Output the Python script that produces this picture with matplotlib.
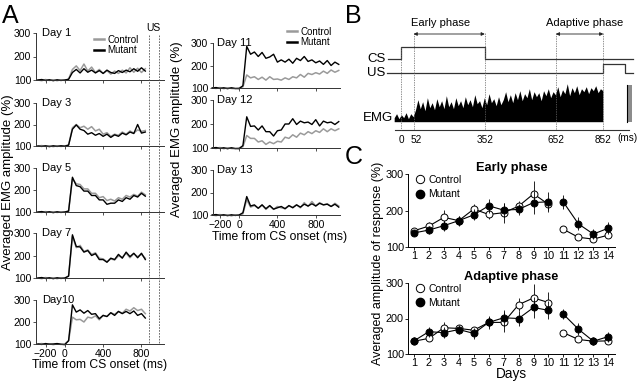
import numpy as np
import matplotlib.pyplot as plt
import matplotlib.transforms as mtransforms
from matplotlib.lines import Line2D

plt.rcParams['font.family'] = ['Liberation Sans', 'DejaVu Sans']

W, H = 640, 381
fig = plt.figure(figsize=(6.4, 3.81), dpi=100)

# ---------------- data: panel A traces (% of baseline) ----------------
t_left = np.arange(-280, 841, 40)
t_right = np.arange(-280, 1041, 40)

day1_control = [100, 97, 102, 98, 101, 97, 101, 98, 104, 145, 160, 140, 168, 138, 155, 132, 145, 128, 140, 125, 138, 128, 142, 130, 152, 133, 150, 132, 148]
day1_mutant = [100, 102, 98, 101, 97, 101, 98, 100, 103, 132, 145, 130, 148, 133, 142, 130, 140, 128, 142, 132, 128, 140, 132, 142, 135, 148, 137, 152, 138]
day3_control = [100, 102, 98, 101, 97, 101, 98, 100, 105, 185, 200, 185, 192, 178, 190, 170, 178, 155, 162, 145, 155, 150, 165, 155, 170, 160, 175, 168, 172]
day3_mutant = [100, 98, 101, 97, 101, 98, 101, 99, 104, 178, 198, 178, 172, 155, 162, 150, 158, 145, 155, 140, 152, 145, 160, 152, 165, 158, 200, 160, 165]
day5_control = [100, 98, 102, 99, 101, 98, 100, 99, 105, 250, 228, 225, 205, 205, 185, 185, 165, 170, 152, 158, 150, 165, 158, 175, 168, 180, 172, 190, 178]
day5_mutant = [100, 102, 98, 101, 97, 101, 98, 100, 104, 258, 220, 215, 195, 195, 175, 175, 155, 155, 135, 140, 140, 155, 148, 165, 158, 175, 168, 185, 172]
day7_control = [100, 97, 102, 98, 101, 97, 101, 98, 110, 285, 235, 245, 218, 225, 205, 212, 188, 185, 172, 185, 180, 198, 192, 210, 190, 208, 195, 205, 188]
day7_mutant = [100, 102, 98, 101, 97, 101, 98, 100, 108, 292, 240, 238, 215, 222, 200, 208, 182, 182, 170, 188, 182, 205, 188, 215, 195, 210, 190, 210, 182]
day10_control = [100, 102, 98, 101, 97, 101, 98, 100, 115, 222, 210, 212, 200, 222, 218, 228, 210, 230, 225, 242, 235, 248, 240, 258, 250, 265, 252, 258, 238]
day10_mutant = [100, 98, 102, 99, 100, 102, 99, 97, 115, 278, 245, 255, 240, 252, 235, 238, 215, 230, 225, 242, 230, 248, 238, 248, 238, 250, 230, 238, 218]

day11_control = [100, 98, 102, 97, 101, 98, 97, 101, 105, 158, 145, 150, 138, 148, 135, 150, 138, 140, 135, 145, 138, 150, 145, 160, 148, 165, 160, 168, 162, 175, 165, 180, 170, 178]
day11_mutant = [100, 102, 98, 101, 97, 101, 98, 97, 110, 285, 250, 260, 240, 258, 232, 238, 250, 215, 225, 215, 228, 210, 232, 222, 240, 218, 225, 212, 220, 205, 222, 200, 215, 205]
day12_control = [100, 98, 102, 97, 101, 98, 97, 101, 105, 152, 140, 140, 125, 130, 115, 125, 118, 128, 125, 145, 140, 155, 145, 162, 155, 168, 160, 172, 165, 180, 168, 180, 172, 180]
day12_mutant = [100, 102, 98, 101, 97, 101, 98, 97, 110, 230, 190, 192, 175, 192, 168, 168, 150, 172, 175, 200, 200, 222, 198, 212, 205, 208, 198, 218, 192, 212, 205, 208, 198, 210]
day13_control = [100, 97, 102, 98, 101, 96, 101, 98, 105, 168, 135, 142, 130, 145, 125, 140, 125, 138, 132, 128, 140, 135, 145, 132, 155, 138, 160, 140, 155, 145, 150, 138, 152, 140]
day13_mutant = [100, 102, 98, 101, 97, 101, 98, 100, 110, 182, 140, 145, 130, 145, 128, 142, 126, 132, 138, 128, 142, 132, 145, 135, 148, 140, 150, 140, 152, 145, 148, 138, 148, 135]

left_days = ['Day 1', 'Day 3', 'Day 5', 'Day 7', 'Day10']
right_days = ['Day 11', 'Day 12', 'Day 13']
us_window = [875, 980]

# ---------------- data: panel B schematic (ms) ----------------
cs_on, cs_off = 0, 352
us_on, us_off = 852, 945
phase_marks = [0, 52, 352, 652, 852]
emg_amp = [4, 8, 3, 7, 4, 9, 3, 8, 5,
           12, 22, 13, 20, 11, 24, 14, 19, 12, 23, 15, 21, 13, 26, 15,
           20, 13, 24, 16, 21, 14, 25, 17, 22, 15, 27, 18, 21, 14, 24, 17, 28, 19, 23, 16,
           25, 17, 22, 30, 20, 27, 19, 29, 22, 31, 21, 28, 24, 33, 22, 30, 25, 29, 21, 31,
           26, 33, 24, 30, 27, 35, 25, 32, 28, 38, 26, 34, 29, 36, 27, 33, 30, 35, 28, 34,
           31, 36, 29, 33, 31]
emg_t = -30 + 10 * np.arange(len(emg_amp))

# ---------------- data: panel C ----------------
days = np.arange(1, 15)
early_control = [144, 157, 181, 172, 204, 189, 194, 212, 246, 217, 148, 126, 121, 132]
early_control_err = [8, 10, 20, 12, 14, 12, 28, 14, 36, 15, 8, 5, 5, 8]
early_mutant = [138, 146, 158, 172, 188, 213, 201, 203, 222, 224, 223, 163, 135, 151]
early_mutant_err = [8, 12, 14, 14, 15, 20, 20, 15, 32, 28, 20, 18, 15, 17]
adaptive_control = [136, 144, 174, 172, 167, 189, 189, 239, 258, 245, 160, 141, 136, 137]
adaptive_control_err = [8, 8, 15, 10, 8, 14, 28, 18, 40, 30, 8, 6, 6, 8]
adaptive_mutant = [137, 163, 160, 169, 158, 189, 202, 200, 231, 223, 212, 170, 136, 149]
adaptive_mutant_err = [10, 14, 16, 14, 15, 18, 22, 20, 30, 25, 14, 17, 12, 14]

GRAY = '#9a9a9a'
AXC = '#333333'


def px_axes(x0, x1, ytop, ybot):
    return fig.add_axes([x0 / W, 1 - ybot / H, (x1 - x0) / W, (ybot - ytop) / H])


def trace_axes(ax, xlim, labels):
    ax.set_xlim(*xlim)
    ax.set_ylim(100, 300)
    for s in ['top', 'right']:
        ax.spines[s].set_visible(False)
    for s in ['left', 'bottom']:
        ax.spines[s].set_linewidth(0.7)
        ax.spines[s].set_color(AXC)
    ax.set_yticks([100, 200, 300])
    ax.set_xticks([-200, 0, 400, 800])
    ax.tick_params(length=2.5, width=0.6, labelsize=7.5, pad=1, colors=AXC, labelcolor='black')
    if not labels:
        ax.set_xticklabels([])


# ---------------- panel A left column ----------------
left_pos = [(33, 80), (103, 146), (168, 212), (233, 278), (300, 344)]
left_data = [(day1_control, day1_mutant), (day3_control, day3_mutant),
             (day5_control, day5_mutant), (day7_control, day7_mutant),
             (day10_control, day10_mutant)]
left_axes = []
for i, ((yt, yb), (c, m), name) in enumerate(zip(left_pos, left_data, left_days)):
    ax = px_axes(36, 164, yt, yb)
    trace_axes(ax, (-300, 1035), i == len(left_pos) - 1)
    ax.plot(t_left, c, color=GRAY, lw=1.1, clip_on=False)
    ax.plot(t_left, m, color='black', lw=1.0, clip_on=False)
    ax.text(0.05, 300, name, transform=mtransforms.blended_transform_factory(ax.transAxes, ax.transData),
            fontsize=8, va='center', ha='left')
    left_axes.append(ax)

left_axes[0].legend([Line2D([], [], color=GRAY, lw=1.8), Line2D([], [], color='black', lw=1.8)],
                    ['Control', 'Mutant'], loc='upper left', bbox_to_anchor=(0.45, 0.96),
                    frameon=False, fontsize=7, handlelength=1.1, handletextpad=0.3,
                    labelspacing=0.05, borderpad=0, borderaxespad=0)

# US dashed window
tr = mtransforms.blended_transform_factory(left_axes[-1].transData, fig.transFigure)
for x in us_window:
    fig.add_artist(Line2D([x, x], [1 - 35 / H, 1 - 344 / H], transform=tr, color='#555555',
                          lw=0.6, ls=(0, (2, 1.5))))
fig.text(np.mean(us_window), 1 - 28 / H, 'US', transform=tr, fontsize=7.5, ha='center', va='center')

fig.text(8.5 / W, 1 - 182 / H, 'Averaged EMG amplitude (%)', rotation=90, fontsize=9.5,
         ha='center', va='center')
fig.text(100 / W, 1 - 365 / H, 'Time from CS onset (ms)', fontsize=8.7, ha='center', va='center')

# ---------------- panel A right column ----------------
right_pos = [(43, 88), (100, 148), (170, 215)]
right_data = [(day11_control, day11_mutant), (day12_control, day12_mutant),
              (day13_control, day13_mutant)]
right_axes = []
for i, ((yt, yb), (c, m), name) in enumerate(zip(right_pos, right_data, right_days)):
    ax = px_axes(213, 340, yt, yb)
    trace_axes(ax, (-272, 1053), i == len(right_pos) - 1)
    ax.plot(t_right, c, color=GRAY, lw=1.1, clip_on=False)
    ax.plot(t_right, m, color='black', lw=1.0, clip_on=False)
    ax.text(0.03, 300, name, transform=mtransforms.blended_transform_factory(ax.transAxes, ax.transData),
            fontsize=8, va='center', ha='left')
    right_axes.append(ax)

right_axes[0].legend([Line2D([], [], color=GRAY, lw=1.8), Line2D([], [], color='black', lw=1.8)],
                     ['Control', 'Mutant'], loc='upper left', bbox_to_anchor=(0.58, 1.36),
                     frameon=False, fontsize=7, handlelength=1.1, handletextpad=0.3,
                     labelspacing=0.05, borderpad=0, borderaxespad=0)

fig.text(177 / W, 1 - 129 / H, 'Averaged EMG amplitude (%)', rotation=90, fontsize=9.5,
         ha='center', va='center')
fig.text(280 / W, 1 - 237 / H, 'Time from CS onset (ms)', fontsize=8.7, ha='center', va='center')

# ---------------- panel B ----------------
axb = px_axes(380, 640, 15, 135)
axb.set_xlim((380 - 401.3) / 0.2371, (640 - 401.3) / 0.2371)
axb.set_ylim(135, 15)
axb.set_axis_off()

cs_lo, cs_hi, us_lo, us_hi, emg_base, base_y = 59, 47, 72.7, 64, 121.7, 130
axb.plot([-56, cs_on, cs_on, cs_off, cs_off, 978], [cs_lo, cs_lo, cs_hi, cs_hi, cs_lo, cs_lo],
         color='#333333', lw=0.9)
axb.plot([-60, us_on, us_on, us_off, us_off, 978], [us_lo, us_lo, us_hi, us_hi, us_lo, us_lo],
         color='#333333', lw=0.9)
axb.fill_between(emg_t, emg_base, emg_base - np.array(emg_amp), color='black', lw=0)
axb.fill_between([951, 975], emg_base, 85, color='#8c8c8c', lw=0)
axb.plot([951, 951], [85, emg_base], color='black', lw=0.8)
axb.plot([-27, 960], [base_y, base_y], color='#333333', lw=0.8)

for x in phase_marks:
    top = cs_hi if x == 0 else 33
    axb.plot([x, x], [top, base_y], color='#666666', lw=0.5, ls=(0, (2, 1.5)))
    axb.text(x + (10 if x == 52 else 0), 140, str(x), fontsize=7.2, ha='center', va='center')
axb.text(955, 138, '(ms)', fontsize=7.2, ha='center', va='center')

arrow = dict(arrowstyle='<|-|>', lw=0.6, color='#222222', mutation_scale=5, shrinkA=0, shrinkB=0)
axb.annotate('', xy=(phase_marks[1], 34), xytext=(phase_marks[2], 34), arrowprops=arrow)
axb.annotate('', xy=(phase_marks[3], 34), xytext=(phase_marks[4], 34), arrowprops=arrow)
axb.text(165, 22.7, 'Early phase', fontsize=8, ha='center', va='center')
axb.text(775, 22.7, 'Adaptive phase', fontsize=8, ha='center', va='center')
axb.text(-66, cs_lo, 'CS', fontsize=9.5, ha='right', va='center')
axb.text(-66, us_lo, 'US', fontsize=9.5, ha='right', va='center')
axb.text(-36, 118, 'EMG', fontsize=9.5, ha='right', va='center')


# ---------------- panel C ----------------
def phase_axes(ax, ctrl, ctrl_err, mut, mut_err, title):
    ax.set_xlim(0.6, 14.45)
    ax.set_ylim(100, 300)
    for s in ['top', 'right']:
        ax.spines[s].set_visible(False)
    for s in ['left', 'bottom']:
        ax.spines[s].set_linewidth(0.7)
    ax.set_xticks(days)
    ax.set_yticks([100, 200, 300])
    ax.tick_params(length=2.5, width=0.6, labelsize=7.8, pad=0.5)
    for vals, err, face in [(ctrl, ctrl_err, 'white'), (mut, mut_err, 'black')]:
        ax.errorbar(days, vals, yerr=err, fmt='none', ecolor='black', elinewidth=0.6,
                    capsize=0, clip_on=False)
        for sl in [slice(0, 10), slice(10, 14)]:
            ax.plot(days[sl], vals[sl], color='black', lw=0.8, marker='o', ms=5,
                    mfc=face, mec='black', mew=0.7, clip_on=False)
    ax.set_title(title, fontsize=9.2, fontweight='bold', pad=2)
    ax.legend([Line2D([], [], ls='none', marker='o', ms=6, mfc='white', mec='black', mew=0.7),
               Line2D([], [], ls='none', marker='o', ms=6, mfc='black', mec='black')],
              ['Control', 'Mutant'], loc='upper left', bbox_to_anchor=(0.04, 0.99), frameon=False,
              fontsize=7.5, handlelength=0.8, handletextpad=0.35, labelspacing=0.4,
              borderpad=0, borderaxespad=0)


axc1 = px_axes(408, 615, 174.3, 246.7)
phase_axes(axc1, early_control, early_control_err, early_mutant, early_mutant_err, 'Early phase')
axc2 = px_axes(408, 615, 283, 354)
phase_axes(axc2, adaptive_control, adaptive_control_err, adaptive_mutant, adaptive_mutant_err,
           'Adaptive phase')

fig.text(378 / W, 1 - 263 / H, 'Averaged amplitude of response (%)', rotation=90, fontsize=9,
         ha='center', va='center')
fig.text(511 / W, 1 - 374 / H, 'Days', fontsize=9.8, ha='center', va='center')

# panel letters
fig.text(2 / W, 1 - 16 / H, 'A', fontsize=18, ha='left', va='center')
fig.text(345 / W, 1 - 16 / H, 'B', fontsize=18, ha='left', va='center')
fig.text(345 / W, 1 - 157 / H, 'C', fontsize=18, ha='left', va='center')

fig.savefig('out.png', dpi=100)
